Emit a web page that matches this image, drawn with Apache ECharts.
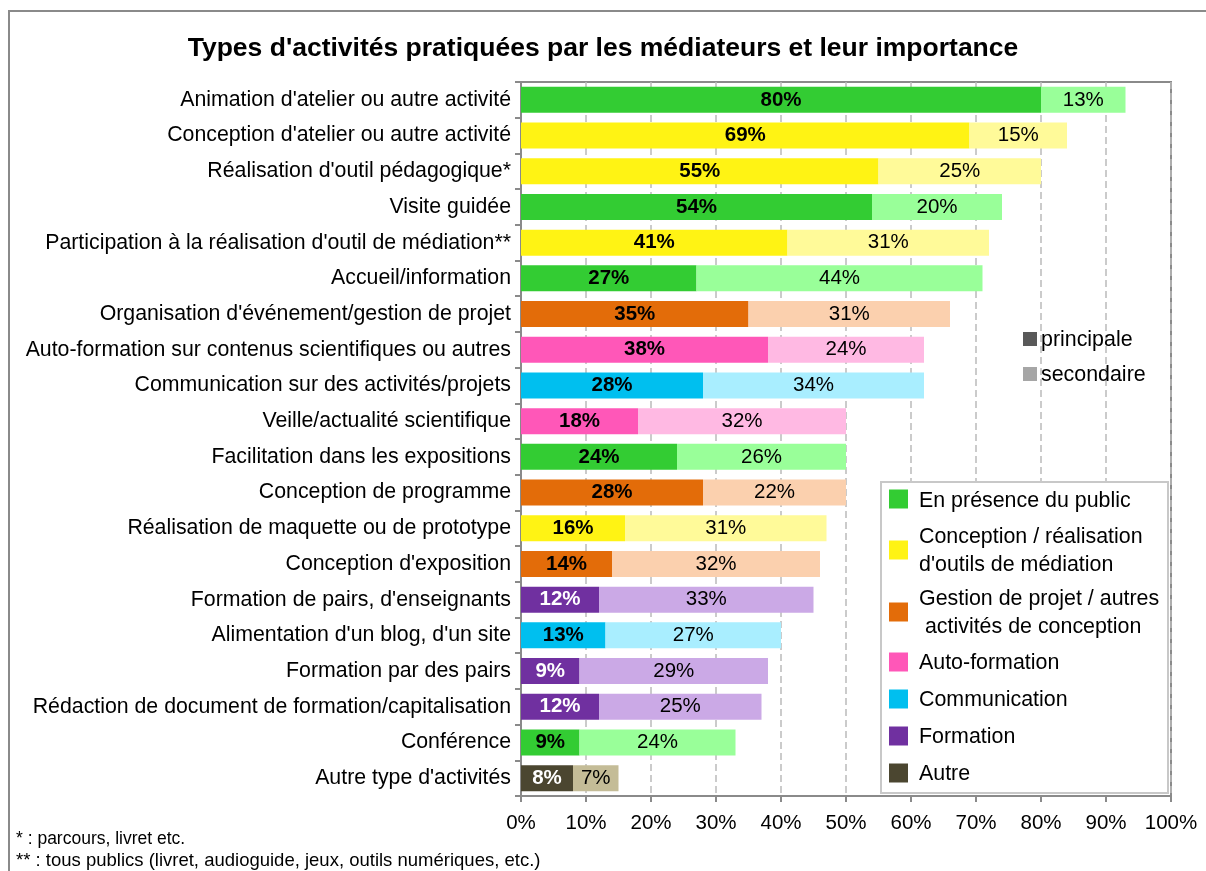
<!DOCTYPE html>
<html>
<head>
<meta charset="utf-8">
<script src="https://cdn.jsdelivr.net/npm/echarts@6/dist/echarts.min.js"></script>
<style>
html,body{margin:0;padding:0;background:#fff;}
#chart{width:1206px;height:871px;}
</style>
</head>
<body>
<div id="chart"></div>
<script>
const categories = [
  "Animation d'atelier ou autre activité",
  "Conception d'atelier ou autre activité",
  "Réalisation d'outil pédagogique*",
  "Visite guidée",
  "Participation à la réalisation d'outil de médiation**",
  "Accueil/information",
  "Organisation d'événement/gestion de projet",
  "Auto-formation sur contenus scientifiques ou autres",
  "Communication sur des activités/projets",
  "Veille/actualité scientifique",
  "Facilitation dans les expositions",
  "Conception de programme",
  "Réalisation de maquette ou de prototype",
  "Conception d'exposition",
  "Formation de pairs, d'enseignants",
  "Alimentation d'un blog, d'un site",
  "Formation par des pairs",
  "Rédaction de document de formation/capitalisation",
  "Conférence",
  "Autre type d'activités"
];
const principale = [80, 69, 55, 54, 41, 27, 35, 38, 28, 18, 24, 28, 16, 14, 12, 13, 9, 12, 9, 8];
const secondaire = [13, 15, 25, 20, 31, 44, 31, 24, 34, 32, 26, 22, 31, 32, 33, 27, 29, 25, 24, 7];
const groups = ["public","outils","outils","public","outils","public","gestion","auto","comm","auto",
                "public","gestion","outils","gestion","formation","comm","formation","formation","public","autre"];
const groupNames = {
  public: "En présence du public",
  outils: "Conception / réalisation\nd'outils de médiation",
  gestion: "Gestion de projet / autres\n activités de conception",
  auto: "Auto-formation",
  comm: "Communication",
  formation: "Formation",
  autre: "Autre"
};
const darkColors = {public:"#33CC33", outils:"#FFF314", gestion:"#E36C09", auto:"#FF57B8", comm:"#00BFEF", formation:"#7030A0", autre:"#4B4630"};
const lightColors = {public:"#99FF99", outils:"#FFFA99", gestion:"#FBD0AE", auto:"#FFB9E3", comm:"#A9EEFF", formation:"#CBA9E6", autre:"#C4BC97"};
const darkLabelColors = {public:"#000", outils:"#000", gestion:"#000", auto:"#000", comm:"#000", formation:"#fff", autre:"#fff"};

const FONT = "'Liberation Sans', Arial, sans-serif";
const chart = echarts.init(document.getElementById('chart'));

const pData = principale.map((v,i)=>({value:v,itemStyle:{color:darkColors[groups[i]]},label:{color:darkLabelColors[groups[i]]}}));
const sData = secondaire.map((v,i)=>({value:v,itemStyle:{color:lightColors[groups[i]]}}));

const G = [];
G.push({type:'rect', shape:{x:881,y:482,width:287,height:311}, style:{fill:'#fff', stroke:'#C8C8C8', lineWidth:2}, z:100});
const legItems = [
  {g:'public', sy:499, lines:[501]},
  {g:'outils', sy:550, lines:[537,565]},
  {g:'gestion', sy:612, lines:[599,627]},
  {g:'auto', sy:662, lines:[663]},
  {g:'comm', sy:699, lines:[700]},
  {g:'formation', sy:736, lines:[737]},
  {g:'autre', sy:773, lines:[774]}
];
legItems.forEach(it=>{
  G.push({type:'rect', shape:{x:889,y:it.sy-9.5,width:19,height:19}, style:{fill:darkColors[it.g]}, z:101});
  groupNames[it.g].split('\n').forEach((t,k)=>{
    G.push({type:'text', x:919, y:it.lines[k], style:{text:t, font:'21.4px '+FONT, fill:'#000', textVerticalAlign:'middle'}, z:101});
  });
});
G.push({type:'rect', shape:{x:1023,y:332,width:14,height:14}, style:{fill:'#595959'}, z:101});
G.push({type:'rect', shape:{x:1023,y:367,width:14,height:14}, style:{fill:'#A6A6A6'}, z:101});
G.push({type:'text', x:1041, y:340, style:{text:'principale', font:'21.4px '+FONT, fill:'#000', textVerticalAlign:'middle'}, z:101});
G.push({type:'text', x:1041, y:375, style:{text:'secondaire', font:'21.4px '+FONT, fill:'#000', textVerticalAlign:'middle'}, z:101});
G.push({type:'polyline', shape:{points:[[9,871],[9,11],[1206,11]]}, style:{stroke:'#8A8A8A', lineWidth:2, fill:null}, z:0});
G.push({type:'text', x:16, y:839, style:{text:'* : parcours, livret etc.', font:'17.5px '+FONT, fill:'#000', textVerticalAlign:'middle'}});
G.push({type:'text', x:16, y:861, style:{text:'** : tous publics (livret, audioguide, jeux, outils numériques, etc.)', font:'18.5px '+FONT, fill:'#000', textVerticalAlign:'middle'}});

chart.setOption({
  animation:false,
  backgroundColor:'#fff',
  textStyle:{fontFamily:FONT},
  title:{
    text:"Types d'activités pratiquées par les médiateurs et leur importance",
    left:'center', top:30,
    textStyle:{fontSize:26.5, fontWeight:'bold', color:'#000', fontFamily:FONT}
  },
  grid:{left:521, right:35, top:82, bottom:75, show:true, borderColor:'#8A8A8A', borderWidth:2, backgroundColor:'transparent'},
  xAxis:{
    type:'value', min:0, max:100, interval:10,
    axisLabel:{formatter:'{value}%', fontSize:20.5, color:'#000', margin:17, fontFamily:FONT},
    axisLine:{show:true, lineStyle:{color:'#8A8A8A', width:2}},
    axisTick:{show:true, length:6, lineStyle:{color:'#8A8A8A', width:2}},
    splitLine:{show:true, lineStyle:{type:[7,4], color:'#BBBBBB', width:1.5}}
  },
  yAxis:{
    type:'category', inverse:true, data:categories,
    axisLabel:{fontSize:21.3, color:'#000', margin:10, fontFamily:FONT},
    axisLine:{show:true, lineStyle:{color:'#8A8A8A', width:2}},
    axisTick:{show:true, length:6, lineStyle:{color:'#8A8A8A', width:2}},
    splitLine:{show:false}
  },
  series:[
    {name:'principale', type:'bar', stack:'t', barWidth:26, data:pData,
     label:{show:true, position:'inside', formatter:'{c}%', fontSize:20.5, fontWeight:'bold', fontFamily:FONT}},
    {name:'secondaire', type:'bar', stack:'t', barWidth:26, data:sData,
     label:{show:true, position:'inside', formatter:'{c}%', fontSize:20.5, color:'#000', fontFamily:FONT}}
  ],
  graphic:G
});
</script>
</body>
</html>
